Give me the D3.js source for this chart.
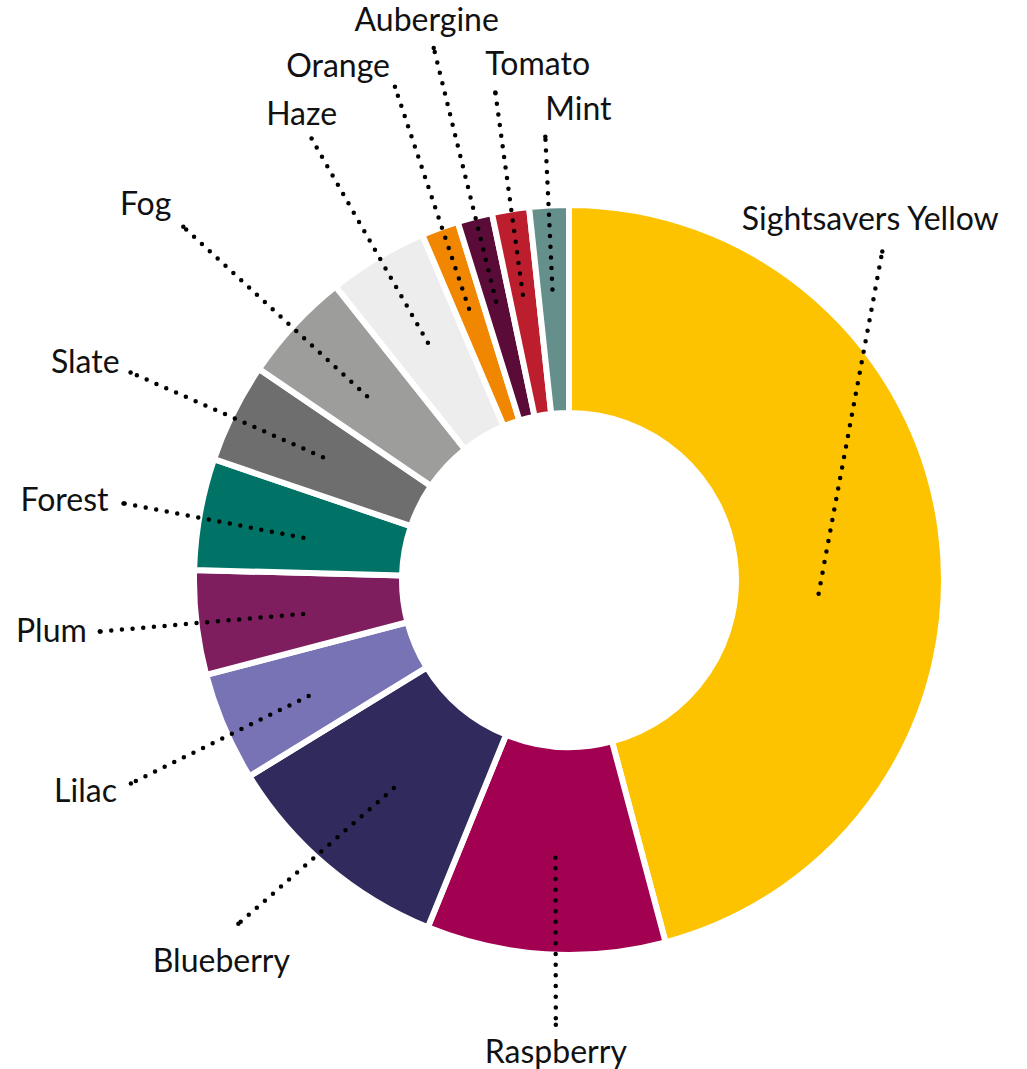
<!DOCTYPE html>
<html>
<head>
<meta charset="utf-8">
<script src="https://cdn.jsdelivr.net/npm/d3@7"></script>
<style>
  html, body { margin: 0; padding: 0; background: #ffffff; }
  svg { display: block; }
  text { font-family: Lato, "Open Sans", sans-serif; fill: #111111; }
</style>
</head>
<body>
<svg id="chart" width="1027" height="1069"></svg>
<script>
// ---- data ----
const categories = ["Sightsavers Yellow", "Raspberry", "Blueberry", "Lilac", "Plum", "Forest",
  "Slate", "Fog", "Haze", "Orange", "Aubergine", "Tomato", "Mint"];
const values = [45.9, 10.3, 10.1, 4.7, 4.5, 4.8, 4.3, 4.8, 4.3, 1.6, 1.5, 1.6, 1.7];
const colors = ["#FDC300", "#A20050", "#312A5C", "#7873B5", "#7F1E5E", "#007366",
  "#6E6E6E", "#9D9D9C", "#EDEDED", "#F18700", "#5A0B37", "#BD1E2D", "#648F8A"];

// ---- label layout (leader line: start/end offsets from slice centroid angle, radii; text offset) ----
const labelLayout = [
  { sA: 10.6, sR: 250, eA: -38.9, eR: 454, anchor: "middle", dx: -12, dy: -21 },
  { sA: -0.8, sR: 278, eA: -1.9, eR: 445, anchor: "middle", dx: 0, dy: 38 },
  { sA: -0.2, sR: 272, eA: 3.6, eR: 477, anchor: "middle", dx: -17, dy: 48 },
  { sA: -0.9, sR: 285, eA: -1.8, eR: 483, anchor: "end", dx: -14, dy: 19 },
  { sA: -0.7, sR: 268, eA: 0.3, eR: 472, anchor: "end", dx: -13, dy: 11 },
  { sA: -1.1, sR: 269, eA: -0.4, eR: 452, anchor: "end", dx: -15, dy: 8 },
  { sA: 0, sR: 275, eA: -1.2, eR: 485, anchor: "end", dx: -11, dy: 0 },
  { sA: -0.6, sR: 273, eA: -0.4, eR: 523, anchor: "end", dx: -12, dy: -12 },
  { sA: 0, sR: 276, eA: 0.5, eR: 511, anchor: "middle", dx: -10, dy: -14 },
  { sA: -0.1, sR: 289, eA: 0.7, eR: 523, anchor: "end", dx: -5, dy: -10 },
  { sA: -0.1, sR: 288, eA: 0.3, eR: 549, anchor: "middle", dx: -7, dy: -17 },
  { sA: -0.2, sR: 289, eA: 0.4, eR: 493, anchor: "start", dx: -10, dy: -18 },
  { sA: -0.2, sR: 291, eA: 0, eR: 444, anchor: "start", dx: 0, dy: -17 }
];

const cx = 569, cy = 580;
const outerR = 375, innerR = 167;

const svg = d3.select("#chart");
const g = svg.append("g").attr("transform", `translate(${cx},${cy})`);

const data = categories.map((c, i) => ({ name: c, value: values[i], color: colors[i], layout: labelLayout[i] }));

const pie = d3.pie().sort(null).value(d => d.value);
const arcs = pie(data);

const arc = d3.arc().innerRadius(innerR).outerRadius(outerR);

g.selectAll("path.slice")
  .data(arcs)
  .enter().append("path")
  .attr("class", "slice")
  .attr("d", arc)
  .attr("fill", d => d.data.color)
  .attr("stroke", "#ffffff")
  .attr("stroke-width", 6)
  .attr("stroke-linejoin", "miter");

const deg = Math.PI / 180;
function polar(angleRad, r) {
  return [r * Math.sin(angleRad), -r * Math.cos(angleRad)];
}

arcs.forEach(d => {
  const L = d.data.layout;
  const mid = (d.startAngle + d.endAngle) / 2;
  const s = polar(mid + L.sA * deg, L.sR);
  const e = polar(mid + L.eA * deg, L.eR);
  g.append("line")
    .attr("x1", s[0]).attr("y1", s[1])
    .attr("x2", e[0]).attr("y2", e[1])
    .attr("stroke", "#000000")
    .attr("stroke-width", 4.5)
    .attr("stroke-linecap", "round")
    .attr("stroke-dasharray", "0 10.7");
  g.append("circle")
    .attr("cx", e[0]).attr("cy", e[1]).attr("r", 2.25)
    .attr("fill", "#000000");
  g.append("text")
    .attr("x", e[0] + L.dx)
    .attr("y", e[1] + L.dy)
    .attr("text-anchor", L.anchor)
    .style("font-size", "32px")
    .text(d.data.name);
});
</script>
</body>
</html>
